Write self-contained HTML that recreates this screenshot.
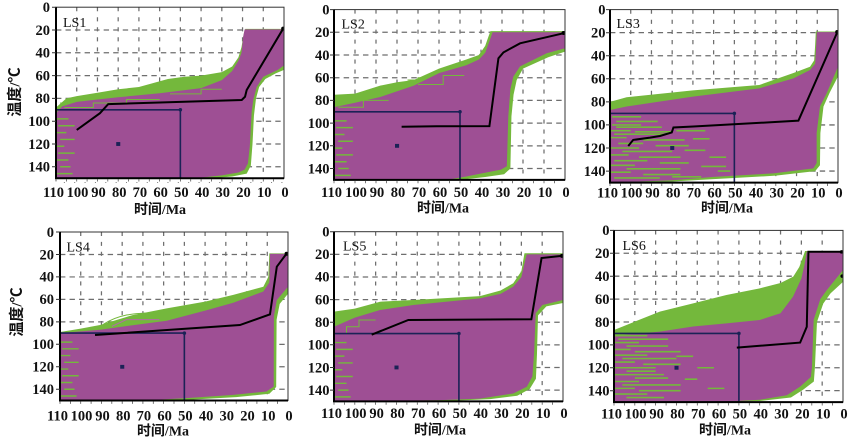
<!DOCTYPE html>
<html><head><meta charset="utf-8"><style>
html,body{margin:0;padding:0;background:#fff;}
svg{display:block;}
.t{font-family:"Liberation Serif","Noto Serif CJK SC",serif;font-weight:bold;font-size:14.5px;fill:#111;}
.ty{font-family:"Liberation Serif","Noto Serif CJK SC",serif;font-weight:bold;font-size:14.5px;fill:#111;text-anchor:end;}
.tx{text-anchor:middle;}
.lab{font-family:"Liberation Serif",serif;font-size:14px;fill:#111;}
.ti{font-family:"Liberation Serif","Noto Sans CJK SC",sans-serif;font-weight:bold;font-size:14px;fill:#111;text-anchor:middle;}
.tiy{font-family:"Liberation Serif","Noto Sans CJK SC",sans-serif;font-weight:bold;font-size:15px;fill:#111;text-anchor:middle;}
</style></head><body>
<svg width="850" height="441" viewBox="0 0 850 441" xmlns="http://www.w3.org/2000/svg">
<defs>
<g id="grid">
<path d="M10 0V150M20 0V150M30 0V150M40 0V150M50 0V150M60 0V150M70 0V150M80 0V150M90 0V150M100 0V150" stroke="#6e6e6e" stroke-width="0.6" stroke-dasharray="3.6 5.2" fill="none"/>
<path d="M0 20H110M0 40H110M0 60H110M0 80H110M0 100H110M0 120H110M0 140H110" stroke="#6e6e6e" stroke-width="1.1" stroke-dasharray="2.6 2" fill="none"/>
</g>
<g id="box">
<rect x="0" y="90" width="60" height="60" fill="none" stroke="#1b2256" stroke-width="1.6" vector-effect="non-scaling-stroke"/>
<rect x="29.05" y="118.3" width="1.95" height="3.4" fill="#1b2256"/>
<path d="M60 90h0.01" stroke="#1b2256" stroke-width="3.5" stroke-linecap="round" vector-effect="non-scaling-stroke"/>
</g>
<path id="edge" d="M0,98h6M1,104h8M0,110h5M2,116h7M0,122h4M1,128h8M0,134h6M2,140h5M0,146h8" stroke="#74b83c" stroke-width="1.3" fill="none"/>
</defs>

<!-- ================= P1 ================= -->
<svg x="56" y="7.2" width="228" height="171" viewBox="0 0 110 150" preserveAspectRatio="none">
<use href="#grid"/>
<path fill="#74b83c" d="M0,88 L5,80 L10,78 L20,75 L30,72 L40,70 L54,63 L62,61 L70,60 L80,57 L85,52 L88,44 L89.5,35 L90.5,24 L91.3,19 L110,19 L110,55 L106,58 L101,63 L98,70 L96.5,80 L95.5,95 L94.8,120 L94,139 L92,146 L85,148.5 L75,150 L0,150 Z"/>
<path fill="none" stroke="#74b83c" stroke-width="1" vector-effect="non-scaling-stroke" d="M2,84 H15 V79 H28 V74 H45 V70 H56 M20,78 H35 V75 H52 V68 H65 V62 H78 M60,64 H75 V60 H84 V55"/>
<path fill="#9e4f94" d="M0,93 L3,87 L10,83 L20,81 L30,79 L50,75.5 L70,71 L80,64 L85,56 L88,47 L89.5,40 L90.3,26 L91,19.5 L110,19.5 L110,51 L107,55 L100,61 L96.8,70 L95.2,81 L94.4,92 L94,105 L93.5,122 L92.6,137 L91,142.5 L88,145 L80,147.5 L70,149.5 L60,150 L0,150 Z"/>
<path fill="none" stroke="#74b83c" stroke-width="1" vector-effect="non-scaling-stroke" d="M4,88 H18 V84 H34 V81 H50 M55,76 H70 V72 H80"/>
<use href="#edge"/>
<use href="#box"/>
<path fill="none" stroke="#000" stroke-width="2" vector-effect="non-scaling-stroke" d="M10,107.7 L21.2,93 L25.2,85 L89.6,81.4 L91.2,78.5 L92,72.6 L109.7,18.5"/>
<path d="M109.6,18.8h0.01" stroke="#000" stroke-width="4" stroke-linecap="round" vector-effect="non-scaling-stroke"/>
</svg>

<!-- ================= P2 ================= -->
<svg x="334" y="9.6" width="231" height="170.3" viewBox="0 0 110 150" preserveAspectRatio="none">
<use href="#grid"/>
<path fill="#74b83c" d="M0,75 L10,74 L22,67 L30,64 L38,62 L50,52 L63,44 L69,40 L72,32 L73.5,24 L74.5,19 L110,19 L110,37 L102,42 L90,52 L87,62 L85.5,75 L84.5,94 L84,140 L81,145 L72,147.5 L60,150 L0,150 Z"/>
<path fill="none" stroke="#74b83c" stroke-width="1" vector-effect="non-scaling-stroke" d="M0,80 H12 V76 H22 V70 H30 M5,78 H18 V72 H28 V66 H40 V60 H48 M30,65 H45 V58 H55 V52 H62 V47 H68 M35,62 H50 V55 H60"/>
<path fill="#9e4f94" d="M0,86 L10,82 L22,77 L38,67 L50,56 L63,49 L69,44 L72,38 L74,28 L75.5,20 L110,20 L110,34 L101.3,38.5 L88.6,50 L85.4,59 L84,70 L83,94 L82.3,138 L79.5,141 L71,144 L63,147 L55,149.5 L0,150 Z"/>
<path fill="none" stroke="#74b83c" stroke-width="1" vector-effect="non-scaling-stroke" d="M2,86 H14 V80 H26 M40,66 H52 V58 H62"/>
<use href="#edge"/>
<use href="#box"/>
<path fill="none" stroke="#000" stroke-width="2" vector-effect="non-scaling-stroke" d="M32.2,103.2 L49,102.8 L74,102.6 L78.3,42.9 L80.7,37.7 L88.6,29.7 L109.2,20.9"/>
<path d="M109.3,20.6h0.01" stroke="#000" stroke-width="4" stroke-linecap="round" vector-effect="non-scaling-stroke"/>
</svg>

<!-- ================= P3 ================= -->
<svg x="610" y="9.6" width="228" height="173" viewBox="0 0 110 150" preserveAspectRatio="none">
<use href="#grid"/>
<path fill="#74b83c" d="M0,80 L8,76 L40,70 L72,65.4 L88.5,55 L96.5,49.5 L98.5,44 L99,30 L99.3,19 L110,19 L110,58 L106,72 L103,84 L101.5,107 L101.3,135 L99,140 L80,144 L50,147 L30,149 L0,150 Z"/>
<path fill="none" stroke="#74b83c" stroke-width="1" vector-effect="non-scaling-stroke" d="M0,84 H20 V80 H45 V76 H70 M10,78 H30 V75 H55 V72 H78 V68 H88 V62 H95 M60,70 H80 V64 H92 V56 H98"/>
<path fill="#9e4f94" d="M0,87 L8,84 L40,75.5 L72,68.3 L88.5,59.6 L96.5,52.4 L99,47 L99.5,30 L99.8,19.5 L110,19.5 L110,49.5 L104.5,72.6 L101.3,84 L99.7,107 L99.7,133 L98.1,137.7 L78.8,142 L50,145 L30,148 L0,150 Z"/>
<path fill="none" stroke="#74b83c" stroke-width="1.4" d="M1,93h14M3,97h20M1,100h14M3,102h22M0,105h10M12,106h18M2,108h26M0,111h8M16,113h20M4,116h12M22,118h16M0,120h14M6,123h24M0,126h9M14,128h20M2,131h16M24,133h14M0,135h12M8,138h26M0,141h10M16,143h18M2,146h22M36,122h10M40,112h8M44,136h12M32,105h14M48,128h8M52,140h6M30,145h14"/>
<use href="#box"/>
<path fill="none" stroke="#000" stroke-width="2" vector-effect="non-scaling-stroke" d="M8.8,118.3 L11.2,113 L19.3,111 L24.1,109.6 L29.8,106.5 L30.6,102.2 L40.2,101.4 L90.9,96.3 L109.8,19"/>
<path d="M109.6,19.4h0.01" stroke="#000" stroke-width="4" stroke-linecap="round" vector-effect="non-scaling-stroke"/>
</svg>

<!-- ================= P4 ================= -->
<svg x="60" y="232" width="228" height="168.5" viewBox="0 0 110 150" preserveAspectRatio="none">
<use href="#grid"/>
<path fill="#74b83c" d="M0,89 L10,86 L19.3,82.8 L35,74 L51.5,68 L70,62 L83.6,56 L98.1,48.7 L100.5,40 L101,19 L110,19 L110,55 L106,64 L104.5,78 L104.3,138 L101,144 L85,147 L60,149.5 L0,150 Z"/>
<path fill="none" stroke="#74b83c" stroke-width="1" vector-effect="non-scaling-stroke" d="M21,82 C28,74 34,72 48,72 M12,86 H30 V80 H50"/>
<path fill="#9e4f94" d="M0,90 L19.3,87 L35,83 L51.5,79 L70,70 L83.6,63 L98.1,53 L101,45 L101.3,19.5 L110,19.5 L110,48.7 L104.6,60.5 L103.2,75 L103.1,137.7 L99.6,142 L83.6,145 L60,148 L40,150 L0,150 Z"/>
<path fill="none" stroke="#b46aa8" stroke-width="1" vector-effect="non-scaling-stroke" d="M25,84 L32,78 H48"/>
<use href="#edge"/>
<use href="#box"/>
<path fill="none" stroke="#000" stroke-width="2" vector-effect="non-scaling-stroke" d="M16.9,91.7 L86.8,82.8 L101.3,73.3 L104.6,30.9 L109.4,19"/>
<path d="M109.3,19.4h0.01" stroke="#000" stroke-width="4" stroke-linecap="round" vector-effect="non-scaling-stroke"/>
</svg>

<!-- ================= P5 ================= -->
<svg x="334" y="231.7" width="229" height="169.7" viewBox="0 0 110 150" preserveAspectRatio="none">
<use href="#grid"/>
<path fill="#74b83c" d="M0,70.7 L10,68 L22.1,61.9 L38.1,60.4 L70.1,56.9 L80,52 L86.1,45.6 L90,35 L91.5,19 L110,19 L110,63 L102,66 L98,74 L97.5,108 L97,130 L94,139 L88,145 L75,148 L50,150 L0,150 Z"/>
<path fill="none" stroke="#74b83c" stroke-width="1" vector-effect="non-scaling-stroke" d="M0,80 H6 V74 H14 V70 H24 V66 M2,88 H8 V82 H16 V75 H28 V68 H40 V64 H55 M60,62 H75 V58 H84 V50 H88"/>
<path fill="#9e4f94" d="M0,84 L10,76 L22.1,69.2 L38.1,64.8 L70.1,58.9 L80,55 L86.1,48.6 L90,40 L92,24 L92.6,20 L110,20 L110,60.4 L100.1,64.8 L96.9,72 L96.1,107.5 L95.3,128 L92.6,137 L86.1,143 L70,147.5 L50,149 L0,150 Z"/>
<path fill="none" stroke="#74b83c" stroke-width="1" vector-effect="non-scaling-stroke" d="M1,90 H6 V84 H12 V78 H20"/>
<use href="#edge"/>
<use href="#box"/>
<path fill="none" stroke="#000" stroke-width="2" vector-effect="non-scaling-stroke" d="M18.1,91 L35.7,78 L94.8,77.4 L99.7,23.3 L110,21.3"/>
<path d="M109.5,21.4h0.01" stroke="#000" stroke-width="4" stroke-linecap="round" vector-effect="non-scaling-stroke"/>
</svg>

<!-- ================= P6 ================= -->
<svg x="614" y="230.4" width="229" height="171.7" viewBox="0 0 110 150" preserveAspectRatio="none">
<use href="#grid"/>
<path fill="#74b83c" d="M0,87 L6,82.6 L22,71 L38,63.7 L54,56.4 L70,50.6 L80,46 L86.1,40.4 L89,32 L91,22 L91.8,18 L110,18 L110,45 L104,55 L100.5,64 L97.5,80 L96.5,120 L96,132 L91,139 L85,146 L70,149 L50,150 L0,150 Z"/>
<path fill="#9e4f94" d="M0,92 L22,88.4 L38,84 L54,81.2 L70,78.3 L80,72.4 L86,57.9 L90,42 L91.5,30 L92.6,18.5 L110,18.5 L110,34.6 L102.3,52 L99.1,60 L95.9,78.2 L95.1,119 L94.6,128 L89.4,136.5 L83,144 L70,148 L50,150 L0,150 Z"/>
<path fill="none" stroke="#74b83c" stroke-width="1.4" d="M0,92h16M2,95h24M0,98h12M6,101h20M0,104h8M10,106h22M0,109h16M4,112h26M0,115h10M14,117h18M0,120h20M6,123h14M0,126h24M10,129h16M0,132h12M4,135h28M0,138h10M12,140h20M0,143h16M6,146h18M30,110h8M34,130h6M40,120h8M45,138h8"/>
<use href="#box"/>
<path fill="none" stroke="#000" stroke-width="2" vector-effect="non-scaling-stroke" d="M59,102.4 L89.4,98 L92.6,84.2 L93.4,18.6 L109.4,18.6"/>
<path d="M109.3,18.8h0.01M109.6,40h0.01" stroke="#000" stroke-width="3.5" stroke-linecap="round" vector-effect="non-scaling-stroke"/>
</svg>

<!-- ============ frames ============ -->
<g fill="none">
<rect x="56" y="7.2" width="228" height="171" stroke="#333" stroke-width="1"/>
<rect x="334" y="9.6" width="231" height="170.3" stroke="#333" stroke-width="1"/>
<rect x="610" y="9.6" width="228" height="173" stroke="#333" stroke-width="1"/>
<rect x="60" y="232" width="228" height="168.5" stroke="#333" stroke-width="1"/>
<rect x="334" y="231.7" width="229" height="169.7" stroke="#333" stroke-width="1"/>
<rect x="614" y="230.4" width="229" height="171.7" stroke="#333" stroke-width="1"/>
<path stroke="#000" stroke-width="2" d="M56 7.2V178.2H284M334 9.6V179.9H565M610 9.6V182.6H838M60 232V400.5H288M334 231.7V401.4H563M614 230.4V402.1H843"/>
<path stroke="#333" stroke-width="1" d="M52 7.2h4M52 30h4M52 52.8h4M52 75.6h4M52 98.4h4M52 121.2h4M52 144h4M52 166.8h4
M330 9.6h4M330 32.3h4M330 55h4M330 77.7h4M330 100.4h4M330 123.1h4M330 145.8h4M330 168.5h4
M606 9.6h4M606 32.7h4M606 55.7h4M606 78.8h4M606 101.9h4M606 124.9h4M606 148h4M606 171.1h4
M56 232h4M56 254.5h4M56 276.9h4M56 299.4h4M56 321.9h4M56 344.3h4M56 366.8h4M56 389.3h4
M330 231.7h4M330 254.3h4M330 276.9h4M330 299.6h4M330 322.2h4M330 344.8h4M330 367.5h4M330 390.1h4
M610 230.4h4M610 253.3h4M610 276.2h4M610 299.1h4M610 322h4M610 344.9h4M610 367.8h4M610 390.7h4"/>
<path stroke="#555" stroke-width="0.8" stroke-dasharray="1 9.36" d="M56 180V182.5H284" transform="translate(0,0)"/>
<path stroke="#555" stroke-width="0.8" d="M56 179v2.5M66.4 179v2.5M76.7 179v2.5M87.1 179v2.5M97.5 179v2.5M107.8 179v2.5M118.2 179v2.5M128.5 179v2.5M138.9 179v2.5M149.3 179v2.5M159.6 179v2.5M170 179v2.5M180.4 179v2.5M190.7 179v2.5M201.1 179v2.5M211.5 179v2.5M221.8 179v2.5M232.2 179v2.5M242.5 179v2.5M252.9 179v2.5M263.3 179v2.5M273.6 179v2.5
M334 180.8v2.5M344.5 180.8v2.5M355 180.8v2.5M365.5 180.8v2.5M376 180.8v2.5M386.5 180.8v2.5M397 180.8v2.5M407.5 180.8v2.5M418 180.8v2.5M428.5 180.8v2.5M439 180.8v2.5M449.5 180.8v2.5M460 180.8v2.5M470.5 180.8v2.5M481 180.8v2.5M491.5 180.8v2.5M502 180.8v2.5M512.5 180.8v2.5M523 180.8v2.5M533.5 180.8v2.5M544 180.8v2.5M554.5 180.8v2.5
M610 183.5v2.5M620.4 183.5v2.5M630.7 183.5v2.5M641.1 183.5v2.5M651.5 183.5v2.5M661.8 183.5v2.5M672.2 183.5v2.5M682.5 183.5v2.5M692.9 183.5v2.5M703.3 183.5v2.5M713.6 183.5v2.5M724 183.5v2.5M734.4 183.5v2.5M744.7 183.5v2.5M755.1 183.5v2.5M765.5 183.5v2.5M775.8 183.5v2.5M786.2 183.5v2.5M796.5 183.5v2.5M806.9 183.5v2.5M817.3 183.5v2.5M827.6 183.5v2.5
M60 401.4v2.5M70.4 401.4v2.5M80.7 401.4v2.5M91.1 401.4v2.5M101.5 401.4v2.5M111.8 401.4v2.5M122.2 401.4v2.5M132.5 401.4v2.5M142.9 401.4v2.5M153.3 401.4v2.5M163.6 401.4v2.5M174 401.4v2.5M184.4 401.4v2.5M194.7 401.4v2.5M205.1 401.4v2.5M215.5 401.4v2.5M225.8 401.4v2.5M236.2 401.4v2.5M246.5 401.4v2.5M256.9 401.4v2.5M267.3 401.4v2.5M277.6 401.4v2.5
M334 402.3v2.5M344.4 402.3v2.5M354.8 402.3v2.5M365.2 402.3v2.5M375.6 402.3v2.5M386.1 402.3v2.5M396.5 402.3v2.5M406.9 402.3v2.5M417.3 402.3v2.5M427.7 402.3v2.5M438.1 402.3v2.5M448.5 402.3v2.5M458.9 402.3v2.5M469.3 402.3v2.5M479.7 402.3v2.5M490.1 402.3v2.5M500.5 402.3v2.5M510.9 402.3v2.5M521.4 402.3v2.5M531.8 402.3v2.5M542.2 402.3v2.5M552.6 402.3v2.5
M614 403v2.5M624.4 403v2.5M634.8 403v2.5M645.2 403v2.5M655.6 403v2.5M666.1 403v2.5M676.5 403v2.5M686.9 403v2.5M697.3 403v2.5M707.7 403v2.5M718.1 403v2.5M728.5 403v2.5M738.9 403v2.5M749.3 403v2.5M759.7 403v2.5M770.1 403v2.5M780.5 403v2.5M790.9 403v2.5M801.4 403v2.5M811.8 403v2.5M822.2 403v2.5M832.6 403v2.5"/>
</g>

<!-- ============ panel labels ============ -->
<text class="lab" x="63" y="27">LS1</text>
<text class="lab" x="341.5" y="28.3">LS2</text>
<text class="lab" x="616.5" y="28">LS3</text>
<text class="lab" x="66.5" y="251.7">LS4</text>
<text class="lab" x="343" y="250.7">LS5</text>
<text class="lab" x="622.5" y="250">LS6</text>

<!-- ============ y tick labels ============ -->
<g class="ty">
<text x="50" y="12">0</text><text x="50" y="34.8">20</text><text x="50" y="57.6">40</text><text x="50" y="80.4">60</text><text x="50" y="103.2">80</text><text x="50" y="126">100</text><text x="50" y="148.8">120</text><text x="50" y="171.6">140</text>
<text x="329.5" y="14.4">0</text><text x="329.5" y="37.1">20</text><text x="329.5" y="59.8">40</text><text x="329.5" y="82.5">60</text><text x="329.5" y="105.2">80</text><text x="329.5" y="127.9">100</text><text x="329.5" y="150.6">120</text><text x="329.5" y="173.3">140</text>
<text x="605.5" y="14.4">0</text><text x="605.5" y="37.5">20</text><text x="605.5" y="60.5">40</text><text x="605.5" y="83.6">60</text><text x="605.5" y="106.7">80</text><text x="605.5" y="129.7">100</text><text x="605.5" y="152.8">120</text><text x="605.5" y="175.9">140</text>
<text x="54" y="236.8">0</text><text x="54" y="259.3">20</text><text x="54" y="281.7">40</text><text x="54" y="304.2">60</text><text x="54" y="326.7">80</text><text x="54" y="349.1">100</text><text x="54" y="371.6">120</text><text x="54" y="394.1">140</text>
<text x="329.5" y="236.5">0</text><text x="329.5" y="259.1">20</text><text x="329.5" y="281.7">40</text><text x="329.5" y="304.4">60</text><text x="329.5" y="327">80</text><text x="329.5" y="349.6">100</text><text x="329.5" y="372.3">120</text><text x="329.5" y="394.9">140</text>
<text x="609.5" y="235.2">0</text><text x="609.5" y="258.1">20</text><text x="609.5" y="281">40</text><text x="609.5" y="303.9">60</text><text x="609.5" y="326.8">80</text><text x="609.5" y="349.7">100</text><text x="609.5" y="372.6">120</text><text x="609.5" y="395.5">140</text>
</g>

<!-- ============ x tick labels ============ -->
<g class="t tx">
<text x="53.5" y="197">110</text><text x="77.5" y="197">100</text><text x="98.5" y="197">90</text><text x="119.2" y="197">80</text><text x="139.9" y="197">70</text><text x="160.6" y="197">60</text><text x="181.4" y="197">50</text><text x="202.1" y="197">40</text><text x="222.8" y="197">30</text><text x="243.5" y="197">20</text><text x="264.3" y="197">10</text><text x="285" y="197">0</text>
<text x="331.5" y="197">110</text><text x="356" y="197">100</text><text x="377" y="197">90</text><text x="398" y="197">80</text><text x="419" y="197">70</text><text x="440" y="197">60</text><text x="461" y="197">50</text><text x="482" y="197">40</text><text x="503" y="197">30</text><text x="524" y="197">20</text><text x="545" y="197">10</text><text x="566" y="197">0</text>
<text x="607.5" y="197.5">110</text><text x="631.5" y="197.5">100</text><text x="652.5" y="197.5">90</text><text x="673.2" y="197.5">80</text><text x="693.9" y="197.5">70</text><text x="714.6" y="197.5">60</text><text x="735.4" y="197.5">50</text><text x="756.1" y="197.5">40</text><text x="776.8" y="197.5">30</text><text x="797.5" y="197.5">20</text><text x="818.3" y="197.5">10</text><text x="839" y="197.5">0</text>
<text x="57.5" y="420.5">110</text><text x="81.5" y="420.5">100</text><text x="102.5" y="420.5">90</text><text x="123.2" y="420.5">80</text><text x="143.9" y="420.5">70</text><text x="164.6" y="420.5">60</text><text x="185.4" y="420.5">50</text><text x="206.1" y="420.5">40</text><text x="226.8" y="420.5">30</text><text x="247.5" y="420.5">20</text><text x="268.3" y="420.5">10</text><text x="289" y="420.5">0</text>
<text x="331.5" y="418">110</text><text x="355.6" y="418">100</text><text x="376.6" y="418">90</text><text x="397.5" y="418">80</text><text x="418.3" y="418">70</text><text x="439.1" y="418">60</text><text x="459.9" y="418">50</text><text x="480.7" y="418">40</text><text x="501.5" y="418">30</text><text x="522.4" y="418">20</text><text x="543.2" y="418">10</text><text x="564" y="418">0</text>
<text x="611.5" y="418.5">110</text><text x="635.6" y="418.5">100</text><text x="656.6" y="418.5">90</text><text x="677.5" y="418.5">80</text><text x="698.3" y="418.5">70</text><text x="719.1" y="418.5">60</text><text x="739.9" y="418.5">50</text><text x="760.7" y="418.5">40</text><text x="781.5" y="418.5">30</text><text x="802.4" y="418.5">20</text><text x="823.2" y="418.5">10</text><text x="844" y="418.5">0</text>
</g>

<!-- ============ axis titles ============ -->
<text class="ti" x="160" y="214">时间/Ma</text>
<text class="ti" x="443" y="212.5">时间/Ma</text>
<text class="ti" x="727" y="212.5">时间/Ma</text>
<text class="ti" x="163" y="435.5">时间/Ma</text>
<text class="ti" x="440" y="434.5">时间/Ma</text>
<text class="ti" x="725" y="434.5">时间/Ma</text>
<text class="tiy" transform="translate(19.5,92) rotate(-90)">温度/℃</text>
<text class="tiy" transform="translate(21.5,312) rotate(-90)">温度/℃</text>
</svg>
</body></html>
